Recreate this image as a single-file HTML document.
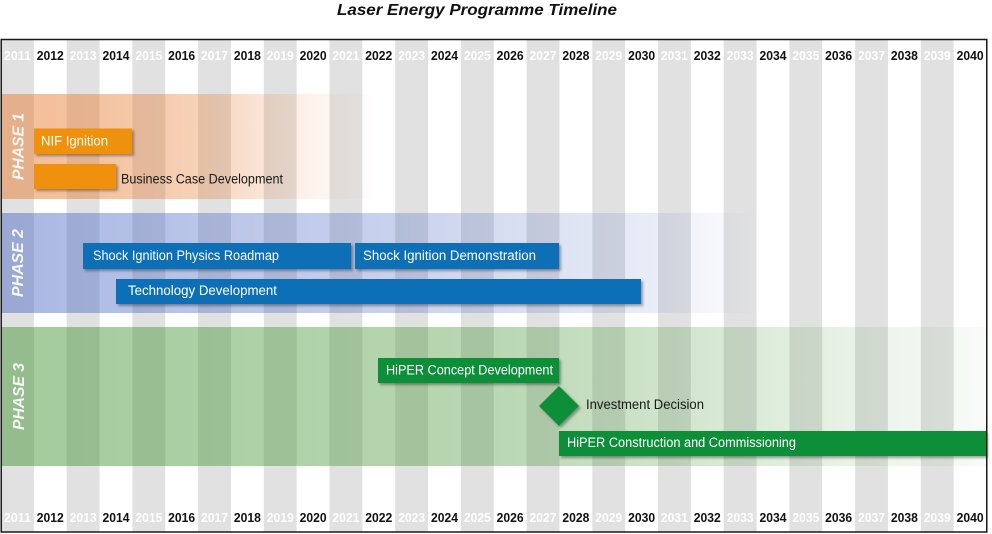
<!DOCTYPE html>
<html><head><meta charset="utf-8"><style>html,body{margin:0;padding:0;background:#fff;}svg{display:block}</style></head>
<body>
<svg width="992" height="534" viewBox="0 0 992 534" xmlns="http://www.w3.org/2000/svg" font-family="'Liberation Sans', sans-serif">
<defs>
  <linearGradient id="g1" x1="0" y1="0" x2="992" y2="0" gradientUnits="userSpaceOnUse">
    <stop offset="0" stop-color="rgb(232,128,55)" stop-opacity="0.52"/>
    <stop offset="0.1" stop-color="rgb(232,128,55)" stop-opacity="0.47"/>
    <stop offset="0.2" stop-color="rgb(232,128,55)" stop-opacity="0.36"/>
    <stop offset="0.31" stop-color="rgb(232,128,55)" stop-opacity="0.1"/>
    <stop offset="0.38" stop-color="rgb(232,128,55)" stop-opacity="0"/>
  </linearGradient>
  <linearGradient id="g2" x1="0" y1="0" x2="992" y2="0" gradientUnits="userSpaceOnUse">
    <stop offset="0" stop-color="rgb(75,105,195)" stop-opacity="0.48"/>
    <stop offset="0.4" stop-color="rgb(75,105,195)" stop-opacity="0.3"/>
    <stop offset="0.66" stop-color="rgb(75,105,195)" stop-opacity="0.12"/>
    <stop offset="0.765" stop-color="rgb(75,105,195)" stop-opacity="0"/>
  </linearGradient>
  <linearGradient id="g3" x1="0" y1="0" x2="992" y2="0" gradientUnits="userSpaceOnUse">
    <stop offset="0" stop-color="rgb(70,150,55)" stop-opacity="0.5"/>
    <stop offset="0.5" stop-color="rgb(70,150,55)" stop-opacity="0.38"/>
    <stop offset="0.8" stop-color="rgb(70,150,55)" stop-opacity="0.16"/>
    <stop offset="1" stop-color="rgb(70,150,55)" stop-opacity="0.03"/>
  </linearGradient>
  <filter id="sh" x="-5%" y="-30%" width="115%" height="180%">
    <feDropShadow dx="2" dy="2" stdDeviation="1.2" flood-color="#000" flood-opacity="0.35"/>
  </filter>
</defs>

<rect width="992" height="534" fill="#fff"/>

<!-- title -->
<text x="337" y="15" font-size="15.5" font-weight="bold" font-style="italic" fill="#111" textLength="280" lengthAdjust="spacingAndGlyphs">Laser Energy Programme Timeline</text>

<!-- gray columns -->
<g fill="#e1e1e1">
  <rect x="1" y="40" width="32.85" height="492"/>
  <rect x="66.7" y="40" width="32.85" height="492"/>
  <rect x="132.4" y="40" width="32.85" height="492"/>
  <rect x="198.1" y="40" width="32.85" height="492"/>
  <rect x="263.8" y="40" width="32.85" height="492"/>
  <rect x="329.5" y="40" width="32.85" height="492"/>
  <rect x="395.2" y="40" width="32.85" height="492"/>
  <rect x="460.9" y="40" width="32.85" height="492"/>
  <rect x="526.6" y="40" width="32.85" height="492"/>
  <rect x="592.3" y="40" width="32.85" height="492"/>
  <rect x="658" y="40" width="32.85" height="492"/>
  <rect x="723.7" y="40" width="32.85" height="492"/>
  <rect x="789.4" y="40" width="32.85" height="492"/>
  <rect x="855.1" y="40" width="32.85" height="492"/>
  <rect x="920.8" y="40" width="32.85" height="492"/>
</g>

<!-- phase bands -->
<rect x="2" y="94" width="984" height="105" fill="url(#g1)"/>
<rect x="2" y="213" width="984" height="100" fill="url(#g2)"/>
<rect x="2" y="327" width="984" height="139" fill="url(#g3)"/>

<!-- year labels -->
<g font-size="13" font-weight="bold" text-anchor="middle">
  <g>
  <text x="17.43" y="60" fill="#fff" textLength="27" lengthAdjust="spacingAndGlyphs">2011</text>
  <text x="50.28" y="60" fill="#111" textLength="27" lengthAdjust="spacingAndGlyphs">2012</text>
  <text x="83.13" y="60" fill="#fff" textLength="27" lengthAdjust="spacingAndGlyphs">2013</text>
  <text x="115.98" y="60" fill="#111" textLength="27" lengthAdjust="spacingAndGlyphs">2014</text>
  <text x="148.83" y="60" fill="#fff" textLength="27" lengthAdjust="spacingAndGlyphs">2015</text>
  <text x="181.68" y="60" fill="#111" textLength="27" lengthAdjust="spacingAndGlyphs">2016</text>
  <text x="214.53" y="60" fill="#fff" textLength="27" lengthAdjust="spacingAndGlyphs">2017</text>
  <text x="247.38" y="60" fill="#111" textLength="27" lengthAdjust="spacingAndGlyphs">2018</text>
  <text x="280.23" y="60" fill="#fff" textLength="27" lengthAdjust="spacingAndGlyphs">2019</text>
  <text x="313.08" y="60" fill="#111" textLength="27" lengthAdjust="spacingAndGlyphs">2020</text>
  <text x="345.93" y="60" fill="#fff" textLength="27" lengthAdjust="spacingAndGlyphs">2021</text>
  <text x="378.78" y="60" fill="#111" textLength="27" lengthAdjust="spacingAndGlyphs">2022</text>
  <text x="411.63" y="60" fill="#fff" textLength="27" lengthAdjust="spacingAndGlyphs">2023</text>
  <text x="444.48" y="60" fill="#111" textLength="27" lengthAdjust="spacingAndGlyphs">2024</text>
  <text x="477.33" y="60" fill="#fff" textLength="27" lengthAdjust="spacingAndGlyphs">2025</text>
  <text x="510.18" y="60" fill="#111" textLength="27" lengthAdjust="spacingAndGlyphs">2026</text>
  <text x="543.03" y="60" fill="#fff" textLength="27" lengthAdjust="spacingAndGlyphs">2027</text>
  <text x="575.88" y="60" fill="#111" textLength="27" lengthAdjust="spacingAndGlyphs">2028</text>
  <text x="608.73" y="60" fill="#fff" textLength="27" lengthAdjust="spacingAndGlyphs">2029</text>
  <text x="641.58" y="60" fill="#111" textLength="27" lengthAdjust="spacingAndGlyphs">2030</text>
  <text x="674.43" y="60" fill="#fff" textLength="27" lengthAdjust="spacingAndGlyphs">2031</text>
  <text x="707.28" y="60" fill="#111" textLength="27" lengthAdjust="spacingAndGlyphs">2032</text>
  <text x="740.13" y="60" fill="#fff" textLength="27" lengthAdjust="spacingAndGlyphs">2033</text>
  <text x="772.98" y="60" fill="#111" textLength="27" lengthAdjust="spacingAndGlyphs">2034</text>
  <text x="805.83" y="60" fill="#fff" textLength="27" lengthAdjust="spacingAndGlyphs">2035</text>
  <text x="838.68" y="60" fill="#111" textLength="27" lengthAdjust="spacingAndGlyphs">2036</text>
  <text x="871.53" y="60" fill="#fff" textLength="27" lengthAdjust="spacingAndGlyphs">2037</text>
  <text x="904.38" y="60" fill="#111" textLength="27" lengthAdjust="spacingAndGlyphs">2038</text>
  <text x="937.23" y="60" fill="#fff" textLength="27" lengthAdjust="spacingAndGlyphs">2039</text>
  <text x="970.08" y="60" fill="#111" textLength="27" lengthAdjust="spacingAndGlyphs">2040</text>
  </g>
  <g>
  <text x="17.43" y="522" fill="#fff" textLength="27" lengthAdjust="spacingAndGlyphs">2011</text>
  <text x="50.28" y="522" fill="#111" textLength="27" lengthAdjust="spacingAndGlyphs">2012</text>
  <text x="83.13" y="522" fill="#fff" textLength="27" lengthAdjust="spacingAndGlyphs">2013</text>
  <text x="115.98" y="522" fill="#111" textLength="27" lengthAdjust="spacingAndGlyphs">2014</text>
  <text x="148.83" y="522" fill="#fff" textLength="27" lengthAdjust="spacingAndGlyphs">2015</text>
  <text x="181.68" y="522" fill="#111" textLength="27" lengthAdjust="spacingAndGlyphs">2016</text>
  <text x="214.53" y="522" fill="#fff" textLength="27" lengthAdjust="spacingAndGlyphs">2017</text>
  <text x="247.38" y="522" fill="#111" textLength="27" lengthAdjust="spacingAndGlyphs">2018</text>
  <text x="280.23" y="522" fill="#fff" textLength="27" lengthAdjust="spacingAndGlyphs">2019</text>
  <text x="313.08" y="522" fill="#111" textLength="27" lengthAdjust="spacingAndGlyphs">2020</text>
  <text x="345.93" y="522" fill="#fff" textLength="27" lengthAdjust="spacingAndGlyphs">2021</text>
  <text x="378.78" y="522" fill="#111" textLength="27" lengthAdjust="spacingAndGlyphs">2022</text>
  <text x="411.63" y="522" fill="#fff" textLength="27" lengthAdjust="spacingAndGlyphs">2023</text>
  <text x="444.48" y="522" fill="#111" textLength="27" lengthAdjust="spacingAndGlyphs">2024</text>
  <text x="477.33" y="522" fill="#fff" textLength="27" lengthAdjust="spacingAndGlyphs">2025</text>
  <text x="510.18" y="522" fill="#111" textLength="27" lengthAdjust="spacingAndGlyphs">2026</text>
  <text x="543.03" y="522" fill="#fff" textLength="27" lengthAdjust="spacingAndGlyphs">2027</text>
  <text x="575.88" y="522" fill="#111" textLength="27" lengthAdjust="spacingAndGlyphs">2028</text>
  <text x="608.73" y="522" fill="#fff" textLength="27" lengthAdjust="spacingAndGlyphs">2029</text>
  <text x="641.58" y="522" fill="#111" textLength="27" lengthAdjust="spacingAndGlyphs">2030</text>
  <text x="674.43" y="522" fill="#fff" textLength="27" lengthAdjust="spacingAndGlyphs">2031</text>
  <text x="707.28" y="522" fill="#111" textLength="27" lengthAdjust="spacingAndGlyphs">2032</text>
  <text x="740.13" y="522" fill="#fff" textLength="27" lengthAdjust="spacingAndGlyphs">2033</text>
  <text x="772.98" y="522" fill="#111" textLength="27" lengthAdjust="spacingAndGlyphs">2034</text>
  <text x="805.83" y="522" fill="#fff" textLength="27" lengthAdjust="spacingAndGlyphs">2035</text>
  <text x="838.68" y="522" fill="#111" textLength="27" lengthAdjust="spacingAndGlyphs">2036</text>
  <text x="871.53" y="522" fill="#fff" textLength="27" lengthAdjust="spacingAndGlyphs">2037</text>
  <text x="904.38" y="522" fill="#111" textLength="27" lengthAdjust="spacingAndGlyphs">2038</text>
  <text x="937.23" y="522" fill="#fff" textLength="27" lengthAdjust="spacingAndGlyphs">2039</text>
  <text x="970.08" y="522" fill="#111" textLength="27" lengthAdjust="spacingAndGlyphs">2040</text>
  </g>
</g>

<!-- phase labels -->
<g font-size="16" font-weight="bold" font-style="italic" fill="#fff" fill-opacity="0.92" text-anchor="middle">
  <text transform="translate(23.5,146.5) rotate(-90)" textLength="67" lengthAdjust="spacingAndGlyphs">PHASE 1</text>
  <text transform="translate(23,263) rotate(-90)" textLength="68" lengthAdjust="spacingAndGlyphs">PHASE 2</text>
  <text transform="translate(24,396.5) rotate(-90)" textLength="67" lengthAdjust="spacingAndGlyphs">PHASE 3</text>
</g>

<!-- bars -->
<g filter="url(#sh)">
  <rect x="34" y="128.5" width="98" height="25.5" fill="#f0910a"/>
  <rect x="34" y="164" width="82" height="25" fill="#f0910a"/>
  <rect x="83" y="243" width="268" height="26" fill="#1170b7"/>
  <rect x="355" y="243" width="204" height="26" fill="#1170b7"/>
  <rect x="116" y="279" width="525" height="25" fill="#1170b7"/>
  <rect x="378" y="358" width="181" height="25" fill="#0e8e38"/>
  <polygon points="559,386 579,406 559,426 539,406" fill="#0e8e38"/>
  <rect x="559" y="431" width="427" height="25" fill="#0e8e38"/>
</g>

<g font-size="13.5" fill="#fff">
  <text x="41" y="145.5" textLength="67" lengthAdjust="spacingAndGlyphs">NIF Ignition</text>
  <text x="93" y="260" textLength="186" lengthAdjust="spacingAndGlyphs">Shock Ignition Physics Roadmap</text>
  <text x="363" y="260" textLength="173" lengthAdjust="spacingAndGlyphs">Shock Ignition Demonstration</text>
  <text x="128" y="295" textLength="149" lengthAdjust="spacingAndGlyphs">Technology Development</text>
  <text x="386" y="374.5" textLength="167" lengthAdjust="spacingAndGlyphs">HiPER Concept Development</text>
  <text x="567" y="447" textLength="229" lengthAdjust="spacingAndGlyphs">HiPER Construction and Commissioning</text>
</g>
<g font-size="13.5" fill="#1a1a1a">
  <text x="121" y="183.5" textLength="162" lengthAdjust="spacingAndGlyphs">Business Case Development</text>
  <text x="586" y="409" textLength="118" lengthAdjust="spacingAndGlyphs">Investment Decision</text>
</g>

<!-- frame -->
<rect x="1.25" y="39.5" width="985.5" height="492.5" fill="none" stroke="#1a1a1a" stroke-width="1.5"/>
</svg>
</body></html>
